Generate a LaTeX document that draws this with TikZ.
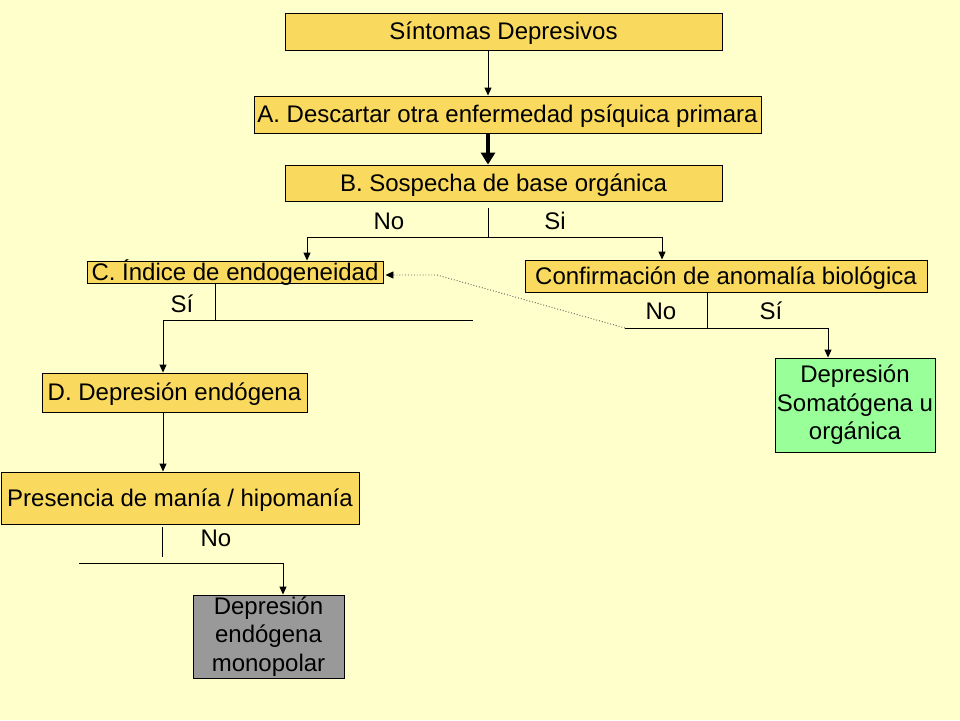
\documentclass[tikz,border=0pt]{standalone}
\usepackage{fontspec}
\setmainfont{Liberation Sans}
\usetikzlibrary{arrows.meta}
\definecolor{bg}{RGB}{255,255,204}
\definecolor{boxy}{RGB}{250,218,94}
\definecolor{boxg}{RGB}{153,255,153}
\definecolor{boxgr}{RGB}{153,153,153}
\definecolor{dotc}{RGB}{90,90,90}
\begin{document}
\begin{tikzpicture}[x=1pt,y=-1pt,
  txt/.style={font=\fontsize{24}{28.5}\selectfont},
  box/.style n args={2}{draw=black, line width=0.9pt, fill=boxy, inner sep=0pt,
     minimum width=#1, minimum height=#2, text height=16.5pt, text depth=0pt, txt},
  mbox/.style n args={3}{draw=black, line width=0.9pt, fill=#3, inner sep=0pt,
     minimum width=#1, minimum height=#2, align=center, txt},
  lbl/.style={anchor=base, inner sep=0pt, txt},
  ln/.style={draw=black, line width=0.9pt},
  arr/.style={ln, -{Triangle[width=7pt,length=8pt]}},
  thickarr/.style={draw=black, line width=3.5pt, -{Triangle[width=14pt,length=12pt]}},
  dotarr/.style={draw=dotc, line width=0.9pt, dotted, -{Triangle[width=7pt,length=8pt,color=black]}}
]
\useasboundingbox[fill=bg] (0,0) rectangle (960,720);

% boxes
\node[box={437}{37}] (S) at (503.5,31.5) {Síntomas Depresivos};
\node[box={507}{37}] (A) at (507.5,114.5) {A. Descartar otra enfermedad psíquica primara};
\node[box={437}{36}] (B) at (503.5,183) {B. Sospecha de base orgánica};
\node[box={296}{22}] (C) at (235,272) {C. Índice de endogeneidad};
\node[box={402}{32}] (F) at (726,276) {Confirmación de anomalía biológica};
\node[box={265}{39}] (D) at (174.5,392.5) {D. Depresión endógena};
\node[box={358}{52}] (P) at (180,498) {Presencia de manía / hipomanía};
\node[mbox={160}{94}{boxg}] (G) at (855,405) {Depresión\\Somatógena u\\orgánica};
\node[mbox={151}{83}{boxgr}] (M) at (268.5,636.5) {Depresión\\endógena\\monopolar};

% helper coordinates
\coordinate (ax) at (488,0);
\coordinate (bj) at (488,237);
\coordinate (bl) at (307,237);
\coordinate (br) at (662,237);
\coordinate (cj) at (215,320);
\coordinate (cl) at (163,320);
\coordinate (cr) at (473,320);
\coordinate (fj) at (707,328);
\coordinate (fl) at (625,328);
\coordinate (fr) at (828,328);
\coordinate (dk) at (437,275);
\coordinate (dx) at (163,0);
\coordinate (pj) at (162,557);
\coordinate (ql) at (79,563);
\coordinate (qr) at (283,563);

% connectors
\draw[arr] (S.south -| ax) -- (A.north -| ax);
\draw[thickarr] (A.south -| ax) -- (B.north -| ax);
\draw[ln] ([yshift=-7pt]B.south -| bj) -- (bj);
\draw[arr] (bj) -- (bl) -- (C.north -| bl);
\draw[arr] (bj) -- (br) -- (F.north -| br);
\draw[ln] (C.south -| cj) -- (cj);
\draw[ln] (cl) -- (cr);
\draw[arr] (cl) -- (D.north -| cl);
\draw[ln] (F.south -| fj) -- (fj);
\draw[arr] (fl) -- (fr) -- (G.north -| fr);
\draw[dotarr] (fl) -- (dk) -- ([xshift=2pt]C.east |- dk);
\draw[arr] (D.south -| dx) -- (P.north -| dx);
\draw[ln] ([yshift=-3pt]P.south -| pj) -- (pj);
\draw[arr] (ql) -- (qr) -- (M.north -| qr);

% labels
\node[lbl] (l1) at (389,229) {No};
\node[lbl] (l2) at (555,229) {Si};
\node[lbl] (l3) at (182,312) {Sí};
\node[lbl] (l4) at (661,319) {No};
\node[lbl] (l5) at (771,319) {Sí};
\node[lbl] (l6) at (216,546) {No};
\end{tikzpicture}
\end{document}
